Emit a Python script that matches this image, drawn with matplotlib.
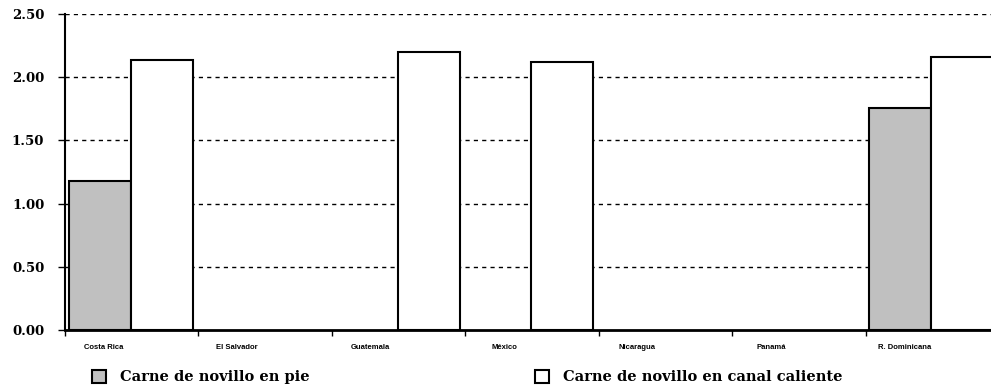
import numpy as np
import matplotlib.pyplot as plt
from matplotlib.patches import Patch

# datos
paises = ["Costa Rica", "El Salvador", "Guatemala", "México", "Nicaragua", "Panamá", "R. Dominicana"]
en_pie = [1.18, np.nan, np.nan, np.nan, np.nan, np.nan, 1.76]
canal_caliente = [2.14, np.nan, 2.20, 2.12, np.nan, np.nan, 2.16]
yticks = [0.0, 0.5, 1.0, 1.5, 2.0, 2.5]
series = ["Carne de novillo en pie", "Carne de novillo en canal caliente"]

serif = "DejaVu Serif"

fig = plt.figure(figsize=(9.91, 3.87), dpi=100)
ax = fig.add_axes([65 / 991, 57 / 387, 934 / 991, 316 / 387])

x = np.arange(len(paises))
w = 0.465
ax.bar(x + 0.26, en_pie, width=w, color="#c0c0c0", edgecolor="black", lw=1.5, zorder=3)
ax.bar(x + 0.725, canal_caliente, width=w, color="white", edgecolor="black", lw=1.5, zorder=3)

ax.set_xlim(0, len(paises))
ax.set_ylim(0, 2.5)

# grid punteado
for y in yticks[1:]:
    ax.axhline(y, color="black", lw=1, ls=(0, (3, 3)), zorder=1)

for s in ["top", "right"]:
    ax.spines[s].set_visible(False)
ax.spines["left"].set_linewidth(1.5)
ax.spines["bottom"].set_linewidth(2)

ax.set_yticks(yticks)
ax.set_yticklabels(["%.2f" % v for v in yticks], fontfamily=serif, fontweight="bold", fontsize=9.5)
ax.tick_params(axis="y", direction="out", length=5, width=1, pad=10)

# ticks en los limites, etiquetas desplazadas a la izquierda
ax.set_xticks(np.arange(len(paises) + 1))
ax.set_xticklabels([])
ax.tick_params(axis="x", which="major", direction="out", length=4, width=1)
ax.set_xticks(x + 0.29, minor=True)
ax.set_xticklabels(paises, minor=True, fontfamily="Liberation Sans", fontweight="bold", fontsize=5.5)
ax.tick_params(axis="x", which="minor", length=0, pad=10)

colores = ["#c0c0c0", "white"]
xs_leyenda = [92 / 991, 535 / 991]
for nombre, c, xl in zip(series, colores, xs_leyenda):
    fig.legend(handles=[Patch(facecolor=c, edgecolor="black", lw=1.5, label=nombre)],
               loc="center left", bbox_to_anchor=(xl, 1 - 377 / 387),
               frameon=False, borderpad=0, borderaxespad=0,
               handlelength=0.95, handleheight=1.0, handletextpad=1.0,
               prop={"family": serif, "weight": "bold", "size": 10.5})

fig.savefig("out.png", dpi=100)
